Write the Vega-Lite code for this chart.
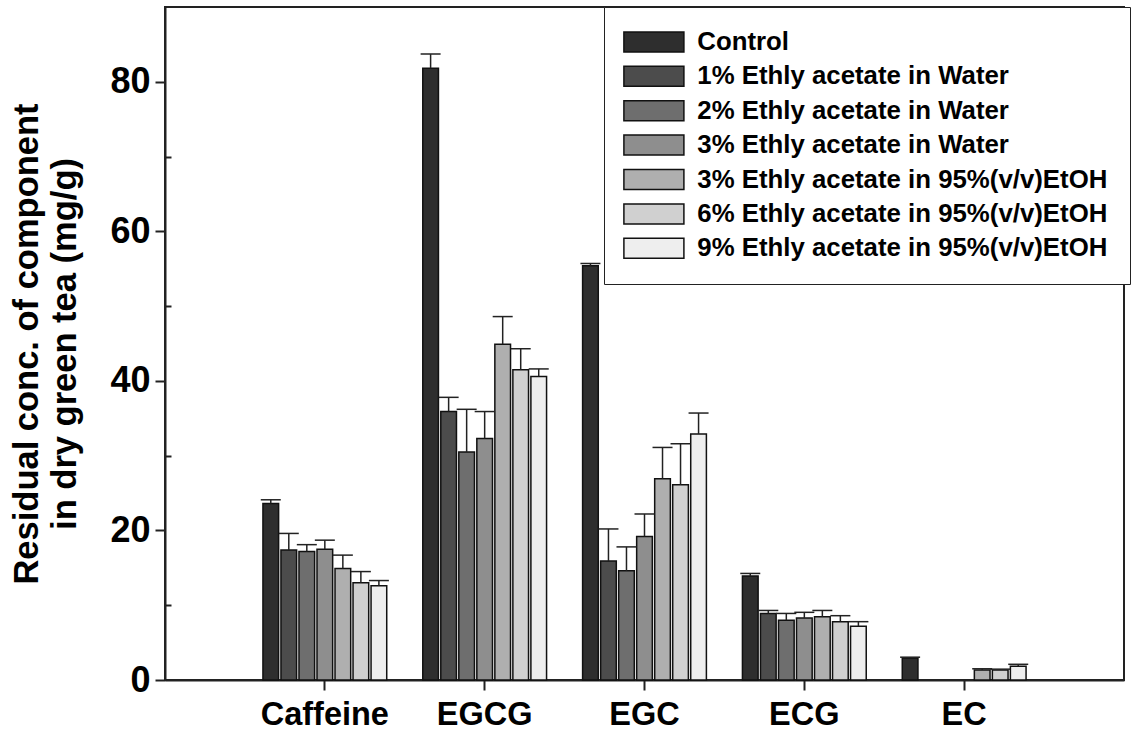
{
  "$schema": "https://vega.github.io/schema/vega-lite/v6.json",
  "width": 959,
  "height": 673,
  "autosize": "none",
  "padding": {"left": 165, "top": 7, "right": 10, "bottom": 60},
  "background": "white",
  "config": {
    "font": "Liberation Sans",
    "view": {"stroke": "#222", "strokeWidth": 2}
  },
  "data": {
    "values": [
      {"component": "Caffeine", "treatment": "Control", "value": 23.6, "upper": 24.1},
      {"component": "Caffeine", "treatment": "1% Ethly acetate in Water", "value": 17.4, "upper": 19.6},
      {"component": "Caffeine", "treatment": "2% Ethly acetate in Water", "value": 17.2, "upper": 18.1},
      {"component": "Caffeine", "treatment": "3% Ethly acetate in Water", "value": 17.5, "upper": 18.7},
      {"component": "Caffeine", "treatment": "3% Ethly acetate in 95%(v/v)EtOH", "value": 14.9, "upper": 16.7},
      {"component": "Caffeine", "treatment": "6% Ethly acetate in 95%(v/v)EtOH", "value": 13.0, "upper": 14.5},
      {"component": "Caffeine", "treatment": "9% Ethly acetate in 95%(v/v)EtOH", "value": 12.6, "upper": 13.3},
      {"component": "EGCG", "treatment": "Control", "value": 81.8, "upper": 83.7},
      {"component": "EGCG", "treatment": "1% Ethly acetate in Water", "value": 35.9, "upper": 37.8},
      {"component": "EGCG", "treatment": "2% Ethly acetate in Water", "value": 30.5, "upper": 36.2},
      {"component": "EGCG", "treatment": "3% Ethly acetate in Water", "value": 32.3, "upper": 35.9},
      {"component": "EGCG", "treatment": "3% Ethly acetate in 95%(v/v)EtOH", "value": 44.9, "upper": 48.6},
      {"component": "EGCG", "treatment": "6% Ethly acetate in 95%(v/v)EtOH", "value": 41.5, "upper": 44.3},
      {"component": "EGCG", "treatment": "9% Ethly acetate in 95%(v/v)EtOH", "value": 40.6, "upper": 41.6},
      {"component": "EGC", "treatment": "Control", "value": 55.4, "upper": 55.7},
      {"component": "EGC", "treatment": "1% Ethly acetate in Water", "value": 15.9, "upper": 20.2},
      {"component": "EGC", "treatment": "2% Ethly acetate in Water", "value": 14.6, "upper": 17.8},
      {"component": "EGC", "treatment": "3% Ethly acetate in Water", "value": 19.2, "upper": 22.2},
      {"component": "EGC", "treatment": "3% Ethly acetate in 95%(v/v)EtOH", "value": 26.9, "upper": 31.1},
      {"component": "EGC", "treatment": "6% Ethly acetate in 95%(v/v)EtOH", "value": 26.1, "upper": 31.6},
      {"component": "EGC", "treatment": "9% Ethly acetate in 95%(v/v)EtOH", "value": 32.9, "upper": 35.7},
      {"component": "ECG", "treatment": "Control", "value": 13.9, "upper": 14.25},
      {"component": "ECG", "treatment": "1% Ethly acetate in Water", "value": 8.9, "upper": 9.3},
      {"component": "ECG", "treatment": "2% Ethly acetate in Water", "value": 8.0, "upper": 8.9},
      {"component": "ECG", "treatment": "3% Ethly acetate in Water", "value": 8.3, "upper": 9.05},
      {"component": "ECG", "treatment": "3% Ethly acetate in 95%(v/v)EtOH", "value": 8.45, "upper": 9.3},
      {"component": "ECG", "treatment": "6% Ethly acetate in 95%(v/v)EtOH", "value": 7.8, "upper": 8.6},
      {"component": "ECG", "treatment": "9% Ethly acetate in 95%(v/v)EtOH", "value": 7.2, "upper": 7.8},
      {"component": "EC", "treatment": "Control", "value": 2.95, "upper": 3.05},
      {"component": "EC", "treatment": "3% Ethly acetate in 95%(v/v)EtOH", "value": 1.35, "upper": 1.5},
      {"component": "EC", "treatment": "6% Ethly acetate in 95%(v/v)EtOH", "value": 1.35, "upper": 1.45},
      {"component": "EC", "treatment": "9% Ethly acetate in 95%(v/v)EtOH", "value": 1.85, "upper": 2.1}
    ]
  },
  "encoding": {
    "x": {
      "field": "component",
      "type": "nominal",
      "sort": ["Caffeine", "EGCG", "EGC", "ECG", "EC"],
      "scale": {"paddingInner": 0, "paddingOuter": 0.5},
      "axis": {
        "title": null,
        "labelAngle": 0,
        "labelFontSize": 32.5,
        "labelFontWeight": "bold",
        "labelColor": "black",
        "labelPadding": 8,
        "tickSize": 10,
        "tickColor": "#222",
        "tickWidth": 2,
        "domainColor": "#222",
        "domainWidth": 2
      }
    },
    "xOffset": {
      "field": "treatment",
      "type": "nominal",
      "sort": [
        "Control",
        "1% Ethly acetate in Water",
        "2% Ethly acetate in Water",
        "3% Ethly acetate in Water",
        "3% Ethly acetate in 95%(v/v)EtOH",
        "6% Ethly acetate in 95%(v/v)EtOH",
        "9% Ethly acetate in 95%(v/v)EtOH"
      ],
      "scale": {"paddingInner": 0.13, "paddingOuter": 1.04}
    }
  },
  "resolve": {"axis": {"y": "independent"}},
  "layer": [
    {
      "mark": {"type": "bar", "stroke": "#111", "strokeWidth": 1.5},
      "encoding": {
        "y": {
          "field": "value",
          "type": "quantitative",
          "scale": {"domain": [0, 90], "nice": false},
          "axis": {
            "orient": "left",
            "values": [0, 20, 40, 60, 80],
            "tickSize": 10,
            "tickColor": "#222",
            "tickWidth": 2,
            "domainColor": "#222",
            "domainWidth": 2,
            "grid": false,
            "labelPadding": 5,
            "labelFontSize": 36,
            "labelFontWeight": "bold",
            "labelColor": "black",
            "title": ["Residual conc. of component", "in dry green tea (mg/g)"],
            "titleFontSize": 34.5,
            "titleFontWeight": "bold",
            "titleColor": "black",
            "titleLineHeight": 38,
            "titlePadding": 27
          }
        },
        "fill": {
          "field": "treatment",
          "type": "nominal",
          "scale": {
            "domain": [
              "Control",
              "1% Ethly acetate in Water",
              "2% Ethly acetate in Water",
              "3% Ethly acetate in Water",
              "3% Ethly acetate in 95%(v/v)EtOH",
              "6% Ethly acetate in 95%(v/v)EtOH",
              "9% Ethly acetate in 95%(v/v)EtOH"
            ],
            "range": ["#2e2e2e", "#4c4c4c", "#6e6e6e", "#8e8e8e", "#afafaf", "#d0d0d0", "#eeeeee"]
          },
          "legend": {
            "title": null,
            "orient": "none",
            "legendX": 439,
            "legendY": 0,
            "symbolType": "M-3,-1H3V1H-3Z",
            "symbolSize": 400,
            "symbolOffset": 15,
            "symbolStrokeColor": "#111",
            "symbolStrokeWidth": 1.5,
            "labelFontSize": 25.8,
            "labelFontWeight": "bold",
            "labelColor": "black",
            "labelOffset": 30.5,
            "labelLimit": 700,
            "fillColor": "white",
            "strokeColor": "#222",
            "padding": 22,
            "rowPadding": 7.4
          }
        }
      }
    },
    {
      "mark": {"type": "rule", "stroke": "#222", "strokeWidth": 1.5},
      "encoding": {
        "y": {
          "field": "value",
          "type": "quantitative",
          "axis": {
            "orient": "left",
            "values": [10, 30, 50, 70],
            "tickSize": -6,
            "tickColor": "#222",
            "tickWidth": 2,
            "domain": false,
            "labels": false,
            "grid": false,
            "title": null
          }
        },
        "y2": {"field": "upper"}
      }
    },
    {
      "mark": {"type": "tick", "size": 20, "thickness": 1.5, "color": "#222", "opacity": 1},
      "encoding": {
        "y": {"field": "upper", "type": "quantitative", "axis": null}
      }
    }
  ]
}
